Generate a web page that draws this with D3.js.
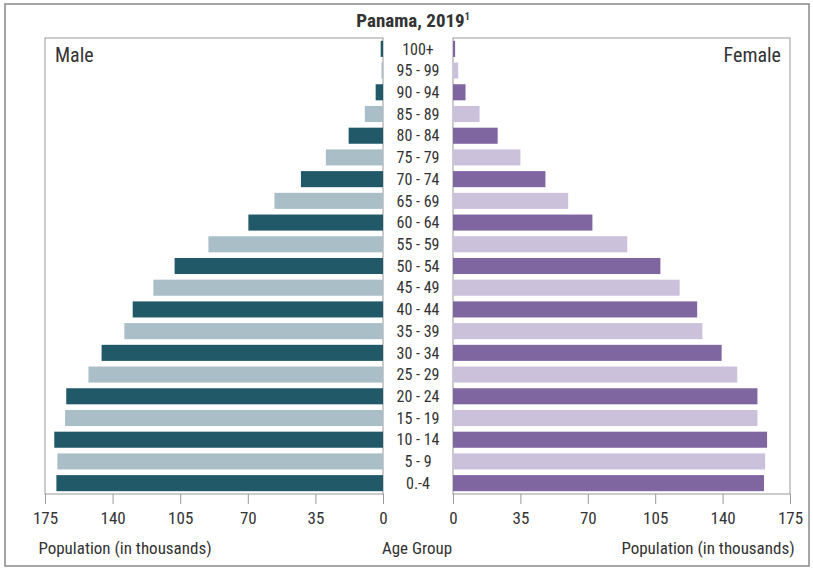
<!DOCTYPE html>
<html>
<head>
<meta charset="utf-8">
<script src="https://cdn.jsdelivr.net/npm/d3@7"></script>
<style>
  body { margin: 0; background: #fff; }
  svg text { font-family: "Liberation Sans Narrow", "Arial Narrow", "Roboto Condensed", "Liberation Sans", sans-serif; fill: #333; }
</style>
</head>
<body>
<div id="chart"></div>
<script>
// age groups, youngest first
let age_groups = ["0.-4", "5 - 9", "10 - 14", "15 - 19", "20 - 24", "25 - 29", "30 - 34", "35 - 39",
                  "40 - 44", "45 - 49", "50 - 54", "55 - 59", "60 - 64", "65 - 69", "70 - 74",
                  "75 - 79", "80 - 84", "85 - 89", "90 - 94", "95 - 99", "100+"];
let male_values = [169.1, 168.6, 170.2, 164.6, 164.0, 152.5, 145.7, 133.9, 129.6, 118.9, 107.9,
                   90.4, 69.7, 56.2, 42.5, 29.6, 17.8, 9.4, 3.8, 0.8, 1.2];
let female_values = [161.5, 162.1, 163.1, 158.1, 158.1, 147.6, 139.5, 129.5, 126.8, 117.7, 107.7,
                     90.5, 72.4, 59.8, 48.0, 35.0, 23.2, 13.8, 6.5, 2.7, 1.1];
let tick_values = [0, 35, 70, 105, 140, 175];

let chart_width = 813;
let chart_height = 569;

let left_x0 = 45, left_x1 = 383;
let right_x0 = 453, right_x1 = 790;
let plot_top = 38, plot_bottom = 494;

let male_dark = "#215968", male_light = "#a9bec6";
let female_dark = "#8066a1", female_light = "#ccc1db";
let line_color = "#999";

let svg = d3.select("#chart")
            .append("svg")
            .attr("width", chart_width)
            .attr("height", chart_height);

// outer frame
svg.append("rect")
    .attr("x", 5).attr("y", 4)
    .attr("width", 804).attr("height", 562)
    .attr("fill", "none")
    .attr("stroke", "#888")
    .attr("stroke-width", 1.5);

// title
let title = svg.append("text")
    .attr("x", 413).attr("y", 27)
    .attr("text-anchor", "middle")
    .style("font-size", "19px")
    .style("font-weight", "bold");
title.append("tspan").text("Panama, 2019");
title.append("tspan").attr("dy", -7).style("font-size", "10px").text("1");

let male_x = d3.scaleLinear().domain([0, 175]).range([left_x1, left_x0]);
let female_x = d3.scaleLinear().domain([0, 175]).range([right_x0, right_x1]);

let y = d3.scaleBand()
          .domain(age_groups)
          .range([plot_bottom, plot_top])
          .paddingInner(0.26)
          .paddingOuter(0.13);

// panel frames
svg.append("rect")
    .attr("x", left_x0).attr("y", plot_top)
    .attr("width", left_x1 - left_x0).attr("height", plot_bottom - plot_top)
    .attr("fill", "none").attr("stroke", line_color);
svg.append("rect")
    .attr("x", right_x0).attr("y", plot_top)
    .attr("width", right_x1 - right_x0).attr("height", plot_bottom - plot_top)
    .attr("fill", "none").attr("stroke", line_color);

// bars
svg.selectAll(".male_rect")
    .data(age_groups)
    .enter()
    .append("rect")
    .attr("class", "male_rect")
    .attr("x", function(d, i) { return male_x(male_values[i]); })
    .attr("y", function(d) { return y(d); })
    .attr("width", function(d, i) { return male_x(0) - male_x(male_values[i]); })
    .attr("height", y.bandwidth())
    .style("fill", function(d, i) { return i % 2 == 0 ? male_dark : male_light; });

svg.selectAll(".female_rect")
    .data(age_groups)
    .enter()
    .append("rect")
    .attr("class", "female_rect")
    .attr("x", female_x(0))
    .attr("y", function(d) { return y(d); })
    .attr("width", function(d, i) { return female_x(female_values[i]) - female_x(0); })
    .attr("height", y.bandwidth())
    .style("fill", function(d, i) { return i % 2 == 0 ? female_dark : female_light; });

// age labels
svg.selectAll(".age_label")
    .data(age_groups)
    .enter()
    .append("text")
    .attr("class", "age_label")
    .attr("x", (left_x1 + right_x0) / 2)
    .attr("y", function(d) { return y(d) + y.bandwidth() / 2; })
    .attr("dy", "0.36em")
    .attr("text-anchor", "middle")
    .style("font-size", "16px")
    .text(function(d) { return d; });

// axes
function style_axis(g) {
    g.select(".domain").remove();
    g.selectAll(".tick line").attr("stroke", line_color);
    g.selectAll(".tick text")
        .attr("fill", "#333")
        .style("font-size", "17px")
        .style("font-family", "\"Liberation Sans Narrow\", \"Arial Narrow\", \"Roboto Condensed\", \"Liberation Sans\", sans-serif");
}

svg.append("g")
    .attr("transform", "translate(0," + plot_bottom + ")")
    .call(d3.axisBottom(male_x).tickValues(tick_values).tickSizeOuter(0).tickSize(10).tickPadding(8))
    .call(style_axis);

svg.append("g")
    .attr("transform", "translate(0," + plot_bottom + ")")
    .call(d3.axisBottom(female_x).tickValues(tick_values).tickSizeOuter(0).tickSize(10).tickPadding(8))
    .call(style_axis);

// panel labels
svg.append("text")
    .attr("x", 55).attr("y", 62)
    .style("font-size", "20px")
    .text("Male");
svg.append("text")
    .attr("x", 781).attr("y", 62)
    .attr("text-anchor", "end")
    .style("font-size", "20px")
    .text("Female");

// axis titles
svg.append("text")
    .attr("x", 125).attr("y", 554)
    .attr("text-anchor", "middle")
    .style("font-size", "17px")
    .text("Population (in thousands)");
svg.append("text")
    .attr("x", 417).attr("y", 554)
    .attr("text-anchor", "middle")
    .style("font-size", "17px")
    .text("Age Group");
svg.append("text")
    .attr("x", 708).attr("y", 554)
    .attr("text-anchor", "middle")
    .style("font-size", "17px")
    .text("Population (in thousands)");
</script>
</body>
</html>
